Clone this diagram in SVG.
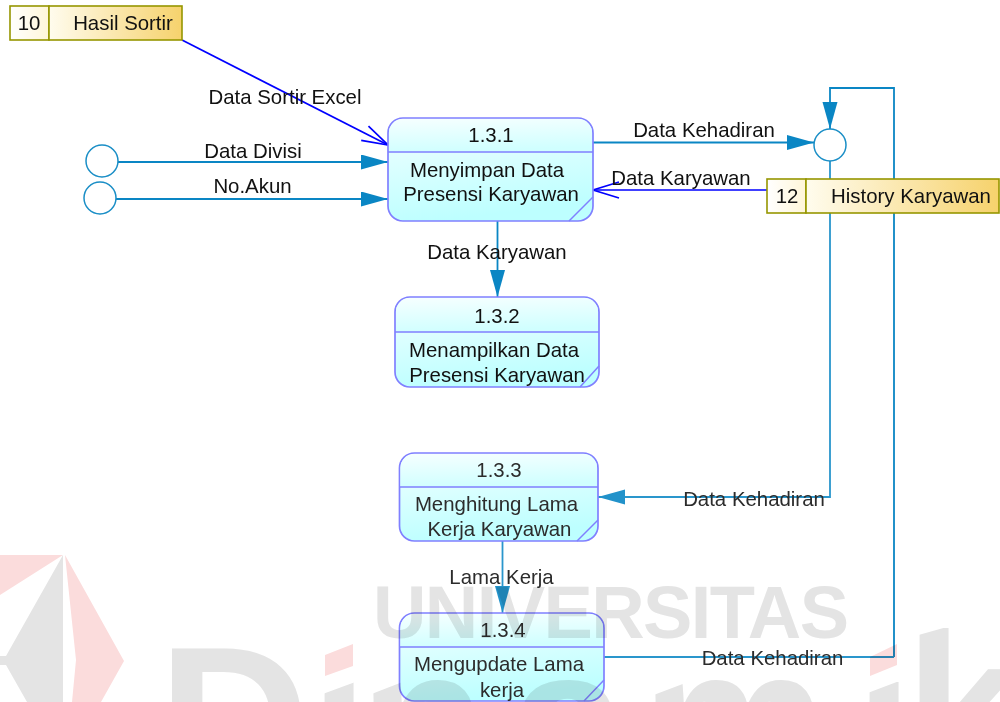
<svg xmlns="http://www.w3.org/2000/svg" width="1000" height="702" viewBox="0 0 1000 702">
<style>
text{font-family:"Liberation Sans",Arial,sans-serif;font-size:20.400px;fill:#111;text-anchor:middle}
.low text,text.low{fill:#2c2c2c}
.box{fill:url(#body);stroke:#8080ff;stroke-width:1.7}
.head{fill:url(#head)}
.rule{stroke:#8080ff;stroke-width:1.5;fill:none}
.store{stroke:#969600;stroke-width:1.6}
.wire{fill:none;stroke:#0a86c4;stroke-width:1.8}
.wirelow{fill:none;stroke:#2a96cc;stroke-width:1.8}
.blue{fill:none;stroke:#0000ff;stroke-width:1.7}
.ref{fill:#fff;stroke:#1a8ec6;stroke-width:1.5}
.wm{mix-blend-mode:multiply}
.wm text{font-weight:bold;fill:#e4e4e4;text-anchor:start}
</style>
<defs>
<linearGradient id="body" x1="0" y1="0" x2="0.25" y2="1"><stop offset="0" stop-color="#f4ffff"/><stop offset="1" stop-color="#bdffff"/></linearGradient>
<linearGradient id="head" x1="0" y1="0" x2="0.2" y2="1"><stop offset="0" stop-color="#f6ffff"/><stop offset="1" stop-color="#d0ffff"/></linearGradient>
<linearGradient id="cell" x1="0" y1="0" x2="1" y2="0"><stop offset="0" stop-color="#fff"/><stop offset="1" stop-color="#fff6d8"/></linearGradient>
<linearGradient id="name" x1="0" y1="0" x2="1" y2="0"><stop offset="0" stop-color="#fffcee"/><stop offset="1" stop-color="#f6d26c"/></linearGradient>
<marker id="fill" markerUnits="userSpaceOnUse" markerWidth="28" markerHeight="16" refX="27" refY="7.500" orient="auto"><path d="M0 0L27 7.500L0 15z" fill="#0a86c4"/></marker>
<marker id="filllow" markerUnits="userSpaceOnUse" markerWidth="28" markerHeight="16" refX="27" refY="7.500" orient="auto"><path d="M0 0L27 7.500L0 15z" fill="#2292ca"/></marker>
<marker id="open" markerUnits="userSpaceOnUse" markerWidth="30" markerHeight="20" refX="28" refY="10" orient="auto"><path d="M2 2L28 10L2 18" fill="none" stroke="#0000ff" stroke-width="1.700"/></marker>
<clipPath id="wmclip"><path clip-rule="evenodd" d="M0 600H1000V702H0zM320 620H358V681L320 695zM369 620H405V681L369 695zM651 620H688V682L651 696zM865 620H902V680L865 694zM915 620H954V625L915 636z"/></clipPath>
</defs>

<g id="connectors">
<path class="blue" d="M182 40L388 145" marker-end="url(#open)"/>
<path class="wire" d="M118 162H388" marker-end="url(#fill)"/>
<path class="wire" d="M116 199H388" marker-end="url(#fill)"/>
<path class="wire" d="M593 142.500H814" marker-end="url(#fill)"/>
<path class="blue" d="M767 190H593" marker-end="url(#open)"/>
<path class="wire" d="M497.500 221V297" marker-end="url(#fill)"/>
<path class="wire" d="M894 657V88H830V129" marker-end="url(#fill)"/>
<path class="wirelow" d="M830 161V497H598" marker-end="url(#filllow)"/>
<path class="wirelow" d="M502.500 541V613" marker-end="url(#filllow)"/>
<path class="wirelow" d="M604 657H894"/>
</g>

<g id="ref-a"><circle class="ref" cx="102" cy="161" r="16"/></g>
<g id="ref-b"><circle class="ref" cx="100" cy="198" r="16"/></g>
<g id="ref-c"><circle class="ref" cx="830" cy="145" r="16"/></g>

<g id="store-10">
<rect class="store" x="10" y="6" width="39" height="34" fill="url(#cell)"/>
<rect class="store" x="49" y="6" width="133" height="34" fill="url(#name)"/>
<text x="29" y="30">10</text><text x="123" y="30">Hasil Sortir</text>
</g>
<g id="store-12">
<rect class="store" x="767" y="179" width="39" height="34" fill="url(#cell)"/>
<rect class="store" x="806" y="179" width="193" height="34" fill="url(#name)"/>
<text x="787" y="203">12</text><text x="911" y="203">History Karyawan</text>
</g>

<g id="p131">
<rect class="box" x="388" y="118" width="205" height="103" rx="15"/>
<path class="head" d="M389 152V133a14 14 0 0 1 14-14H578a14 14 0 0 1 14 14V152z"/>
<path class="rule" d="M388 152H593M593 197L569 221"/>
<text x="491" y="142">1.3.1</text><text x="487" y="177">Menyimpan Data</text><text x="491" y="201">Presensi Karyawan</text>
</g>
<g id="p132">
<rect class="box" x="395" y="297" width="204" height="90" rx="15"/>
<path class="head" d="M396 332V312a14 14 0 0 1 14-14H584a14 14 0 0 1 14 14V332z"/>
<path class="rule" d="M395 332H599M599 366L580 387"/>
<text x="497" y="323">1.3.2</text><text x="494" y="357">Menampilkan Data</text><text x="497" y="382">Presensi Karyawan</text>
</g>
<g id="p133" class="low">
<rect class="box" x="399.500" y="453" width="198.500" height="88" rx="15"/>
<path class="head" d="M400.500 487V468a14 14 0 0 1 14-14H583a14 14 0 0 1 14 14V487z"/>
<path class="rule" d="M399.500 487H598M598 520L577 541"/>
<text x="499" y="477">1.3.3</text><text x="496.500" y="511">Menghitung Lama</text><text x="499.500" y="536">Kerja Karyawan</text>
</g>
<g id="p134" class="low">
<rect class="box" x="399.500" y="613" width="204.500" height="88" rx="15"/>
<path class="head" d="M400.500 647V628a14 14 0 0 1 14-14H589a14 14 0 0 1 14 14V647z"/>
<path class="rule" d="M399.500 647H604M604 680L584 701"/>
<text x="503" y="637">1.3.4</text><text x="499" y="671">Mengupdate Lama</text><text x="502" y="697">kerja</text>
</g>

<g id="flow-labels">
<text x="285" y="104">Data Sortir Excel</text>
<text x="253" y="158">Data Divisi</text>
<text x="252.500" y="193">No.Akun</text>
<text x="704" y="137">Data Kehadiran</text>
<text x="681" y="185">Data Karyawan</text>
<text x="497" y="259">Data Karyawan</text>
<text class="low" x="754" y="506">Data Kehadiran</text>
<text class="low" x="501.500" y="584">Lama Kerja</text>
<text class="low" x="772.500" y="665">Data Kehadiran</text>
</g>

<g id="watermark" class="wm">
<polygon points="0,555 63,555 0,595" fill="#fbdcdc"/>
<polygon points="63,555 63,702 27,702 6,665 0,665 0,656 6,656" fill="#e4e4e4"/>
<polygon points="65,555 124,661 101,702 72,702 76,660" fill="#fbdcdc"/>
<text x="373" y="638" textLength="476" style="font-size:74px">UNIVERSITAS</text>
<g clip-path="url(#wmclip)">
<text x="158 310 359 510 641 855 905" y="793 793 793 793 793 793 780" style="font-size:210px">Dinamik</text>
</g>
<polygon points="325,655 353,644 353,666 325,676" fill="#fbdcdc"/>
<polygon points="870,657 897,644 897,665 870,676" fill="#fbdcdc"/>
</g>
</svg>
